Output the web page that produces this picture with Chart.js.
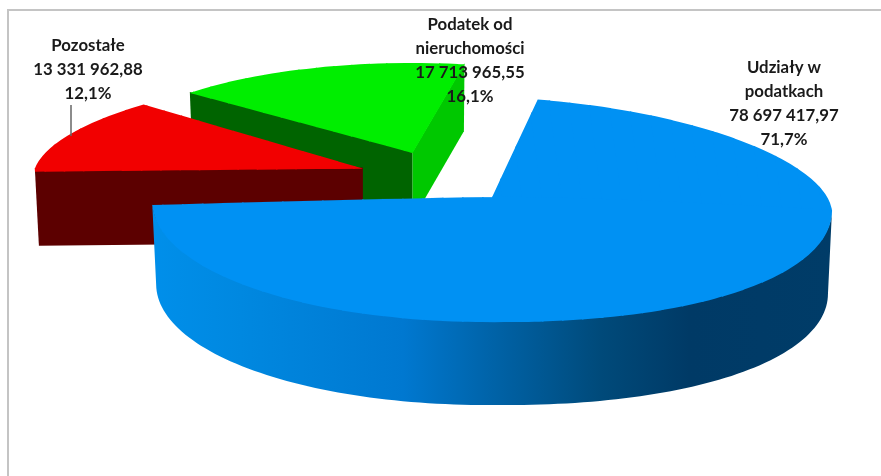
<!DOCTYPE html>
<html>
<head>
<meta charset="utf-8">
<style>
  html, body { margin: 0; background: #fff; }
  canvas { display: block; }
</style>
<script src="https://cdn.jsdelivr.net/npm/chart.js@4"></script>
</head>
<body>
<canvas id="pie" width="881" height="476"></canvas>
<script>
// values as printed in the chart labels, clockwise from the top
const categories = [["Udziały w", "podatkach"], ["Pozostałe"], ["Podatek od", "nieruchomości"]];
const values = [78697417.97, 13331962.88, 17713965.55];

const topColors = ["#0091f3", "#f20000", "#00ee00"];
const startWallColors = [null, "#5c0000", "#006400"];
const endWallColors = [null, null, "#00c800"];
const drawOrder = [2, 1, 0]; // back to front

// fake 3D: how each slice gets flattened, it is nearer or farther from the camera
const explode = 81;
const tilt = 0.32;
const scaleX = [1, 0.965, 0.88];
const skewBack = [0.04, -0.11, 0];
const dropRight = [13.5, 0, 0]; // px the rim sags at the far right / left
const dropLeft = [4, 0, 0];
const backFlat = [100 / 340, 96 / 340, 90 / 340];
const frontFlat = [125 / 340, 96 / 340, 90 / 340];
const depth = [83, 74, 67];
const taper = 0.988;
const bandWidth = 20;

const labelCenters = [[784, 68], [88, 46], [470, 25]];
const lineHeight = 23.7;

const total = values.reduce((a, b) => a + b, 0);

function fmtValue(v) {
  const [whole, dec] = v.toFixed(2).split(".");
  return whole.replace(/\B(?=(\d{3})+$)/g, " ") + "," + dec;
}

function fmtPct(v) {
  return (v / total * 100).toFixed(1).replace(".", ",") + "%";
}

function apexOf(arc) {
  const mid = (arc.startAngle + arc.endAngle) / 2;
  return {
    x: arc.x + Math.cos(mid) * explode,
    y: arc.y + Math.sin(mid) * explode * tilt,
  };
}

function sag(arc, i, wx) {
  const drop = wx < 0 ? dropLeft[i] : dropRight[i];
  return drop * Math.pow(Math.abs(wx) / arc.outerRadius, 1.5);
}

// rim point of slice i at the given angle, on the top face or on the bottom one
function rimPoint(arc, i, angle, bottom) {
  const apex = apexOf(arc);
  const wx = Math.cos(angle) * arc.outerRadius;
  const wy = Math.sin(angle) * arc.outerRadius;
  const flat = wy < 0 ? backFlat[i] : frontFlat[i];
  const skew = wy < 0 ? skewBack[i] : 0;
  const k = bottom ? taper : 1;
  return {
    x: apex.x + (scaleX[i] * wx + skew * wy) * k,
    y: apex.y + flat * wy + sag(arc, i, wx) + (bottom ? depth[i] : 0),
  };
}

function drawEdgeWall(ctx, arc, i, angle, color) {
  if (!color) return;
  const apex = apexOf(arc);
  const a = rimPoint(arc, i, angle, false);
  const b = rimPoint(arc, i, angle, true);
  ctx.fillStyle = color;
  ctx.beginPath();
  // top edge tucked under the face so no light seam shows
  ctx.moveTo(apex.x, apex.y - 1);
  ctx.lineTo(a.x, a.y - 1);
  ctx.lineTo(b.x, b.y);
  ctx.lineTo(apex.x, apex.y + depth[i]);
  ctx.closePath();
  ctx.fill();
}

function drawRimWall(ctx, arc, i) {
  const from = Math.max(arc.startAngle, 0);
  const to = Math.min(arc.endAngle, Math.PI);
  if (to <= from) return;
  const steps = 120;
  const top = [], bottom = [];
  for (let s = 0; s <= steps; s++) {
    const t = from + (to - from) * s / steps;
    top.push(rimPoint(arc, i, t, false));
    bottom.push(rimPoint(arc, i, t, true));
  }
  const apex = apexOf(arc);
  const r = arc.outerRadius;
  const grad = ctx.createLinearGradient(apex.x - r, 0, apex.x + r, 0);
  grad.addColorStop(0, "#008fea");
  grad.addColorStop(0.13, "#0088e0");
  grad.addColorStop(0.37, "#0078d0");
  grad.addColorStop(0.5, "#0063a8");
  grad.addColorStop(0.66, "#004a7a");
  grad.addColorStop(0.79, "#003a66");
  grad.addColorStop(1, "#003c68");
  ctx.fillStyle = grad;
  ctx.beginPath();
  top.forEach((p, n) => (n ? ctx.lineTo(p.x, p.y - 1.5) : ctx.moveTo(p.x, p.y - 1.5)));
  bottom.reverse().forEach((p) => ctx.lineTo(p.x, p.y));
  ctx.closePath();
  ctx.fill();
}

// top face: the library arc, drawn in thin vertical bands behind and in front
// of the apex, each with its own flattening so the rim looks like perspective
function drawTop(ctx, arc, i) {
  const apex = apexOf(arc);
  const big = arc.outerRadius + 10;
  const overlap = 1.5;
  [-1, 1].forEach((ySide) => {
    for (let x0 = -big; x0 < big; x0 += bandWidth) {
      const x1 = x0 + bandWidth;
      const slope = (sag(arc, i, x1) - sag(arc, i, x0)) / bandWidth;
      const lift = sag(arc, i, x0) - slope * x0;
      const flat = ySide < 0 ? backFlat[i] : frontFlat[i];
      const skew = ySide < 0 ? skewBack[i] : 0;
      ctx.save();
      ctx.transform(scaleX[i], slope, skew, flat, apex.x, apex.y + lift);
      ctx.beginPath();
      ctx.rect(x0, ySide < 0 ? -big : -overlap, bandWidth + overlap, big + overlap);
      ctx.clip();
      ctx.translate(-arc.x, -arc.y);
      arc.draw(ctx);
      ctx.restore();
    }
  });
}

const pie3d = {
  id: "pie3d",
  beforeDraw(chart) {
    const ctx = chart.ctx;
    ctx.save();
    ctx.strokeStyle = "#c4c4c4";
    ctx.lineWidth = 2;
    ctx.beginPath();
    ctx.moveTo(8, chart.height);
    ctx.lineTo(8, 10);
    ctx.lineTo(chart.width, 10);
    ctx.stroke();
    ctx.restore();
  },
  beforeDatasetDraw(chart) {
    const ctx = chart.ctx;
    const arcs = chart.getDatasetMeta(0).data;
    drawOrder.forEach((i) => {
      const arc = arcs[i];
      drawEdgeWall(ctx, arc, i, arc.startAngle, startWallColors[i]);
      drawEdgeWall(ctx, arc, i, arc.endAngle, endWallColors[i]);
      if (i === 0) drawRimWall(ctx, arc, i);
      drawTop(ctx, arc, i);
    });
    return false;
  },
  afterDraw(chart) {
    const ctx = chart.ctx;
    ctx.save();
    // leader line of the red slice
    ctx.strokeStyle = "#666";
    ctx.lineWidth = 1.5;
    ctx.beginPath();
    ctx.moveTo(71, 105);
    ctx.lineTo(71, 136);
    ctx.stroke();

    ctx.fillStyle = "#1a1a1a";
    ctx.font = "bold 16.8px Lato, Carlito, sans-serif";
    ctx.textAlign = "center";
    ctx.textBaseline = "middle";
    values.forEach((v, i) => {
      const lines = [...categories[i], fmtValue(v), fmtPct(v)];
      lines.forEach((line, n) => {
        ctx.fillText(line, labelCenters[i][0], labelCenters[i][1] + n * lineHeight);
      });
    });
    ctx.restore();
  },
};

new Chart(document.getElementById("pie"), {
  type: "pie",
  data: {
    labels: categories.map((c) => c.join(" ")),
    datasets: [{
      data: values,
      backgroundColor: topColors,
      borderWidth: 0,
      clip: false,
    }],
  },
  options: {
    responsive: false,
    animation: false,
    rotation: 10,
    radius: 340,
    layout: { padding: { right: 3, bottom: 121 } },
    plugins: {
      legend: { display: false },
      tooltip: { enabled: false },
    },
  },
  plugins: [pie3d],
});
</script>
</body>
</html>
